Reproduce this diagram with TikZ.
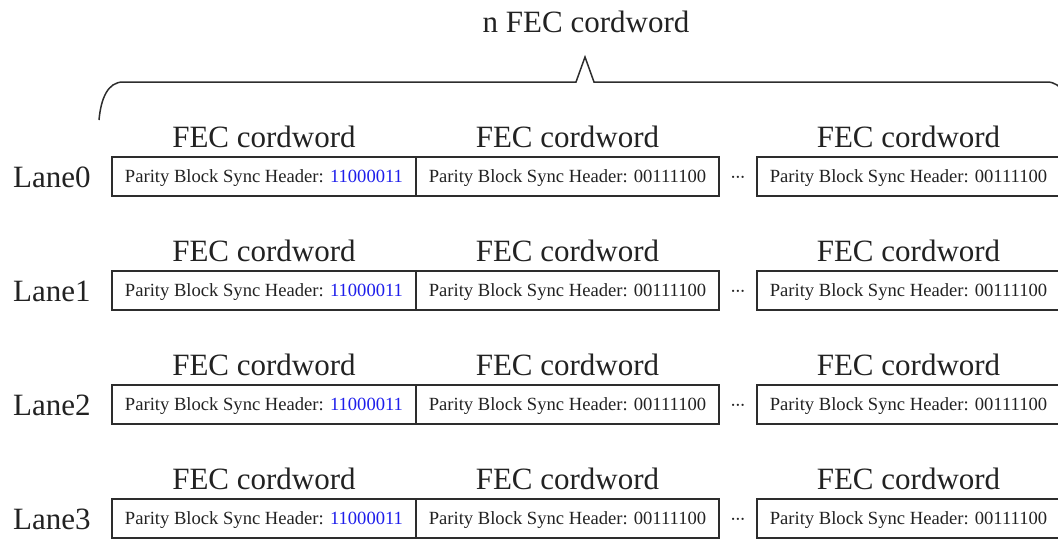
\documentclass[tikz,border=0pt]{standalone}
\usepackage{fontspec}
\setmainfont{Liberation Serif}
\definecolor{inkgray}{RGB}{34,34,34}
\definecolor{linegray}{RGB}{45,45,45}
\definecolor{syncblue}{RGB}{30,30,235}
\begin{document}
\begin{tikzpicture}[x=1pt,y=-1pt,
  bigtext/.style={font=\fontsize{31}{36}\selectfont, text=inkgray, inner sep=0pt},
  cwbox/.style={draw=linegray, line width=1.6pt, minimum height=39pt, inner sep=0pt,
    text height=13pt, text depth=1pt, text=inkgray, font=\fontsize{18.6}{22}\selectfont},
  gapdots/.style={font=\fontsize{18.6}{22}\selectfont, text=inkgray, inner sep=0pt, anchor=base},
  brace/.style={draw=linegray, line width=1.5pt}]
\useasboundingbox (0,0) rectangle (1058,539);
\clip (0,0) rectangle (1058,539);

% title over the brace
\node[bigtext, anchor=base] (title) at (586,32) {n FEC cordword};

% brace spanning all codewords
\coordinate (bl) at (99,120);
\coordinate (br) at (1071,120);
\coordinate (tip) at (585,57);
\draw[brace] (bl) .. controls (101,98) and (108,82) .. (123,82) -- (576,82) -- (tip)
  -- (594,82) -- (1047,82) .. controls (1062,82) and (1069,98) .. (br);

% one row of codewords per lane
\foreach \i in {0,1,2,3} {
  \pgfmathsetmacro{\T}{157+114*\i}
  \node[bigtext, anchor=base west] (lane\i) at (13,\T+30) {Lane\i};
  \node[cwbox, minimum width=304pt] (cwa\i) at (264,\T+19.5)
    {Parity Block Sync Header: \textcolor{syncblue}{11000011}};
  \node[cwbox, minimum width=303pt] (cwb\i) at (567.5,\T+19.5)
    {Parity Block Sync Header: 00111100};
  \node[cwbox, minimum width=303pt] (cwc\i) at (908.5,\T+19.5)
    {Parity Block Sync Header: 00111100};
  \node[gapdots] (dots\i) at (738,\T+26)
    {\textperiodcentered\kern-0.08em\textperiodcentered\kern-0.08em\textperiodcentered};
  \node[bigtext, anchor=base] (fa\i) at (cwa\i.north |- 0,\T-10) {FEC cordword};
  \node[bigtext, anchor=base] (fb\i) at (cwb\i.north |- 0,\T-10) {FEC cordword};
  \node[bigtext, anchor=base] (fc\i) at (cwc\i.north |- 0,\T-10) {FEC cordword};
}
\end{tikzpicture}
\end{document}
